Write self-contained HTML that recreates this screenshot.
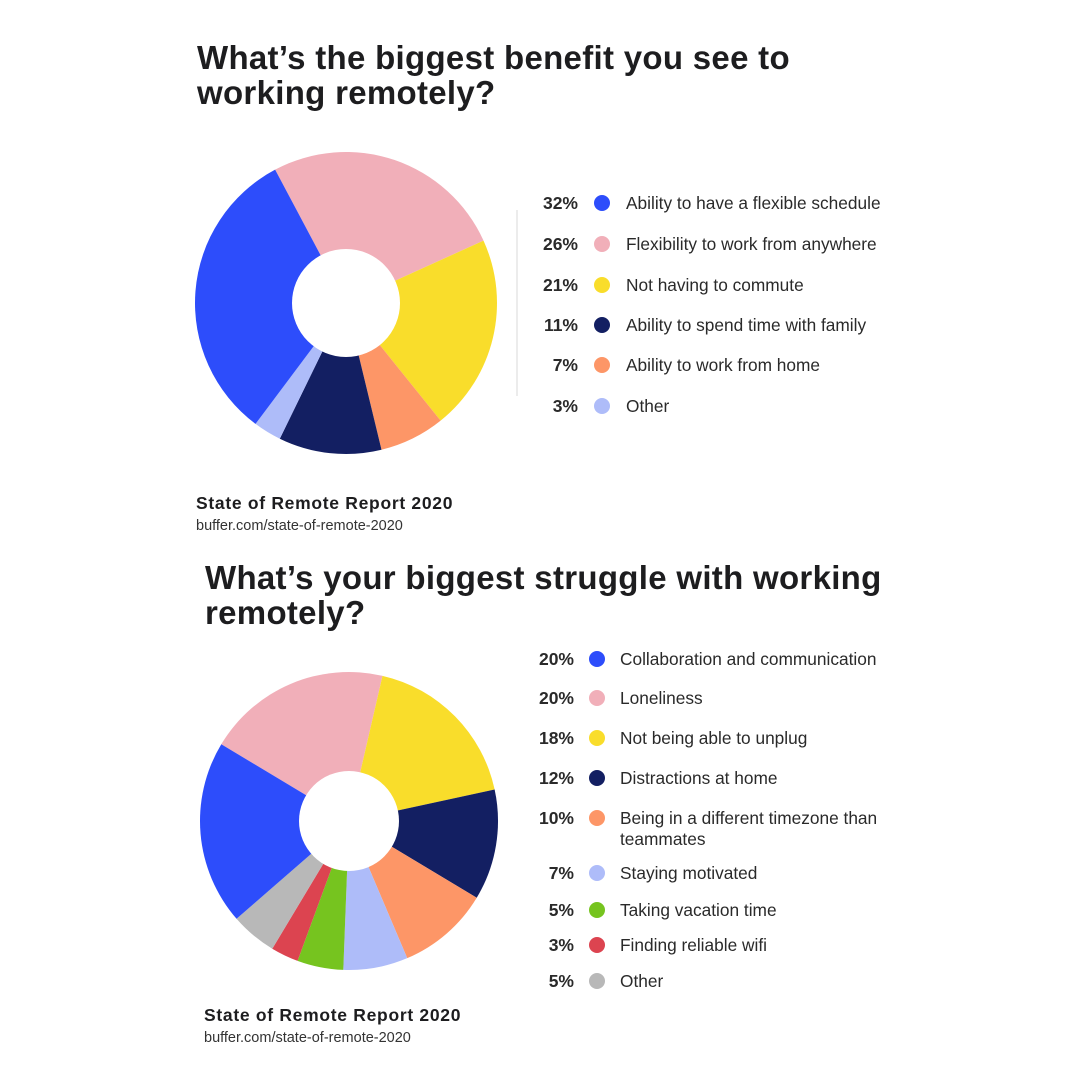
<!DOCTYPE html>
<html><head><meta charset="utf-8"><style>
body{margin:0;background:#fff;}
svg{display:block;}
.t{font-family:"Liberation Sans",sans-serif;font-weight:bold;font-size:33px;letter-spacing:0.3px;fill:#1d1d1f;}
.p{font-family:"Liberation Sans",sans-serif;font-weight:bold;font-size:17.5px;fill:#2a2a2a;}
.l{font-family:"Liberation Sans",sans-serif;font-size:17.3px;fill:#2a2a2a;}
.s{font-family:"Liberation Sans",sans-serif;font-weight:bold;font-size:17.5px;letter-spacing:0.7px;fill:#1d1d1f;}
.u{font-family:"Liberation Sans",sans-serif;font-size:14.5px;fill:#333;}
</style></head><body>
<svg id="c" width="1080" height="1080">
<text class="t" x="197" y="69">What’s the biggest benefit you see to</text>
<text class="t" x="197" y="104">working remotely?</text>
<text class="s" x="196" y="509">State of Remote Report 2020</text>
<text class="u" x="196" y="530">buffer.com/state-of-remote-2020</text>
<line x1="517" y1="210" x2="517" y2="396" stroke="#e6e6e6" stroke-width="1.5"/>
<text class="t" x="205" y="589">What’s your biggest struggle with working</text>
<text class="t" x="205" y="624">remotely?</text>
<text class="s" x="204" y="1021">State of Remote Report 2020</text>
<text class="u" x="204" y="1042">buffer.com/state-of-remote-2020</text>
<g id="g1"></g><g id="g2"></g>
</svg>
<script>
const cats1=["Flexibility to work from anywhere","Not having to commute","Ability to work from home","Ability to spend time with family","Other","Ability to have a flexible schedule"];
const vals1=[26,21,7,11,3,32];
const cols1=["#f1afb9","#f9dd2b","#fd9667","#131f62","#aebcf9","#2d4dfb"];
const legCats1=["Ability to have a flexible schedule","Flexibility to work from anywhere","Not having to commute","Ability to spend time with family","Ability to work from home","Other"];
const legVals1=[32,26,21,11,7,3];
const legCols1=["#2d4dfb","#f1afb9","#f9dd2b","#131f62","#fd9667","#aebcf9"];
const cats2=["Loneliness","Not being able to unplug","Distractions at home","Being in a different timezone than teammates","Staying motivated","Taking vacation time","Finding reliable wifi","Other","Collaboration and communication"];
const vals2=[20,18,12,10,7,5,3,5,20];
const cols2=["#f1afb9","#f9dd2b","#131f62","#fd9667","#aebcf9","#76c41f","#dc4450","#b8b8b8","#2d4dfb"];
const legCats2=["Collaboration and communication","Loneliness","Not being able to unplug","Distractions at home","Being in a different timezone than|teammates","Staying motivated","Taking vacation time","Finding reliable wifi","Other"];
const legVals2=[20,20,18,12,10,7,5,3,5];
const legCols2=["#2d4dfb","#f1afb9","#f9dd2b","#131f62","#fd9667","#aebcf9","#76c41f","#dc4450","#b8b8b8"];
const NS="http://www.w3.org/2000/svg";
function donut(g,vals,cols,cats,cx,cy,r,ri,start){
  const tot=vals.reduce((a,b)=>a+b,0);let a=start*Math.PI/180;
  const pt=(ang,rr)=>[cx+rr*Math.sin(ang),cy-rr*Math.cos(ang)];
  vals.forEach((v,i)=>{const b=a+v/tot*2*Math.PI;const [x1,y1]=pt(a,r),[x2,y2]=pt(b,r);const lg=(b-a)>Math.PI?1:0;
    const p=document.createElementNS(NS,"path");
    p.setAttribute("d",`M${cx},${cy}L${x1},${y1}A${r},${r} 0 ${lg} 1 ${x2},${y2}Z`);
    p.setAttribute("fill",cols[i]);
    
    
    g.appendChild(p);a=b;});
  const h=document.createElementNS(NS,"circle");h.setAttribute("cx",cx);h.setAttribute("cy",cy);h.setAttribute("r",ri);h.setAttribute("fill","#fff");
  
  
  g.appendChild(h);
}
function legend(g,cats,vals,cols,ys,px,dx,lx){
  cats.forEach((c,i)=>{const y=ys[i];
    const t=document.createElementNS(NS,"text");t.setAttribute("class","p");t.setAttribute("x",px);t.setAttribute("y",y+6);t.setAttribute("text-anchor","end");t.textContent=vals[i]+"%";
    
    
    g.appendChild(t);
    const d=document.createElementNS(NS,"circle");d.setAttribute("cx",dx);d.setAttribute("cy",y);d.setAttribute("r",8);d.setAttribute("fill",cols[i]);
    
    
    g.appendChild(d);
    c.split("|").forEach((line,j)=>{const l=document.createElementNS(NS,"text");l.setAttribute("class","l");l.setAttribute("x",lx);l.setAttribute("y",y+6+j*21);l.textContent=line;
      
      
      g.appendChild(l);});
  });
}
const g1=document.getElementById("g1"),g2=document.getElementById("g2");
donut(g1,vals1,cols1,cats1,346,303,151,54,-28);
legend(g1,legCats1,legVals1,legCols1,[203,244,285,325,365,406],578,602,626);
donut(g2,vals2,cols2,cats2,349,821,149,50,-59);
legend(g2,legCats2,legVals2,legCols2,[659,698,738,778,818,873,910,945,981],574,597,620);
</script>
</body></html>
